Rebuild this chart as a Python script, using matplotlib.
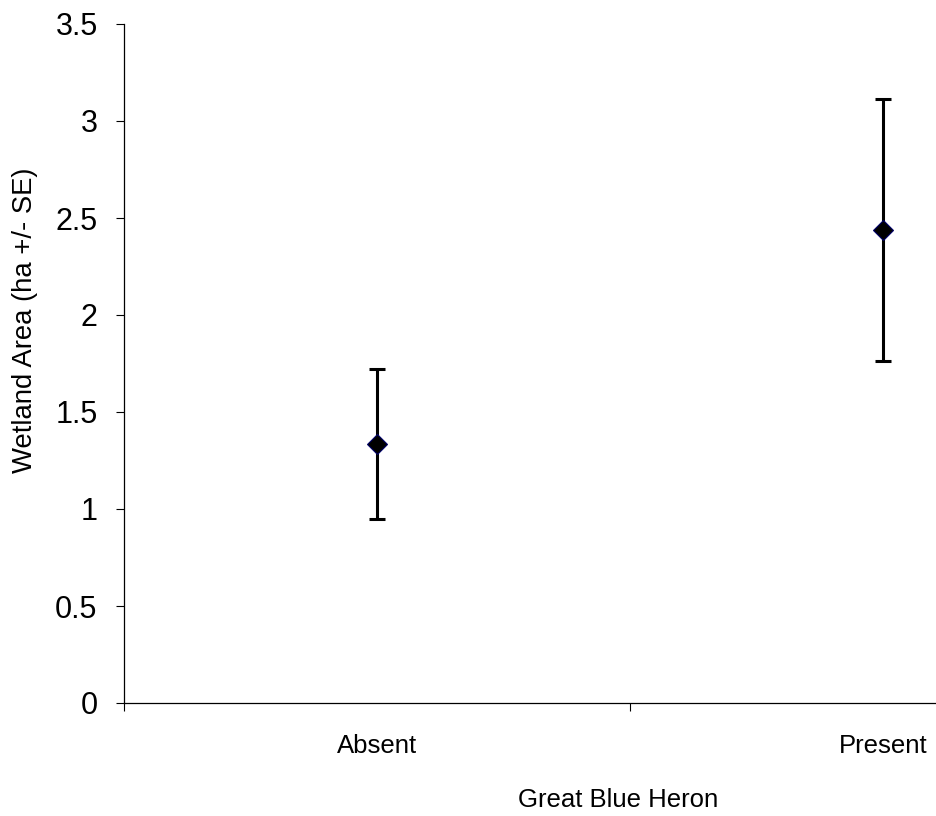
import matplotlib
matplotlib.use("Agg")
import matplotlib.pyplot as plt

# data
groups = ["Absent", "Present"]
means = [1.334, 2.438]
se = [0.388, 0.673]
y_ticks = [0, 0.5, 1, 1.5, 2, 2.5, 3, 3.5]
y_labels = ["0", "0.5", "1", "1.5", "2", "2.5", "3", "3.5"]

plt.rcParams['font.family'] = ['Liberation Sans', 'DejaVu Sans']

W, H = 937, 816
fig = plt.figure(figsize=(W / 100, H / 100), dpi=100)
# axis runs past the right edge like the cropped original
ax = fig.add_axes([124 / W, 113 / H, 1012 / W, 679 / H])

x = list(range(len(groups)))
ax.errorbar(x, means, yerr=se, fmt='none', ecolor='black',
            elinewidth=2.2, capsize=6, capthick=2.2, zorder=2)
ax.plot(x, means, linestyle='none', marker='D', markersize=10,
        markerfacecolor='black', markeredgecolor='#000066',
        markeredgewidth=0.8, zorder=3)

ax.set_xlim(-0.5, 1.5)
ax.set_ylim(0, 3.5)
ax.set_yticks(y_ticks)
ax.set_yticklabels(y_labels, fontsize=22)
ax.set_xticks([-0.5, 0.5, 1.5])
ax.set_xticklabels([])
ax.set_xticks(x, minor=True)
ax.set_xticklabels(groups, minor=True, fontsize=18.5)
ax.tick_params(axis='x', which='minor', length=0, pad=22)
ax.tick_params(axis='x', which='major', length=6, width=0.8, direction='out')
ax.tick_params(axis='y', length=6, width=0.8, direction='out', pad=13)

for s in ['top', 'right']:
    ax.spines[s].set_visible(False)
for s in ['left', 'bottom']:
    ax.spines[s].set_linewidth(0.9)

fig.text(618 / W, 1 - 800 / H, "Great Blue Heron", fontsize=18.5,
         ha='center', va='center')
fig.text(25 / W, 1 - 320 / H, "Wetland Area (ha +/- SE)", fontsize=19.8,
         rotation=90, ha='center', va='center')

fig.savefig("out.png", dpi=100)
